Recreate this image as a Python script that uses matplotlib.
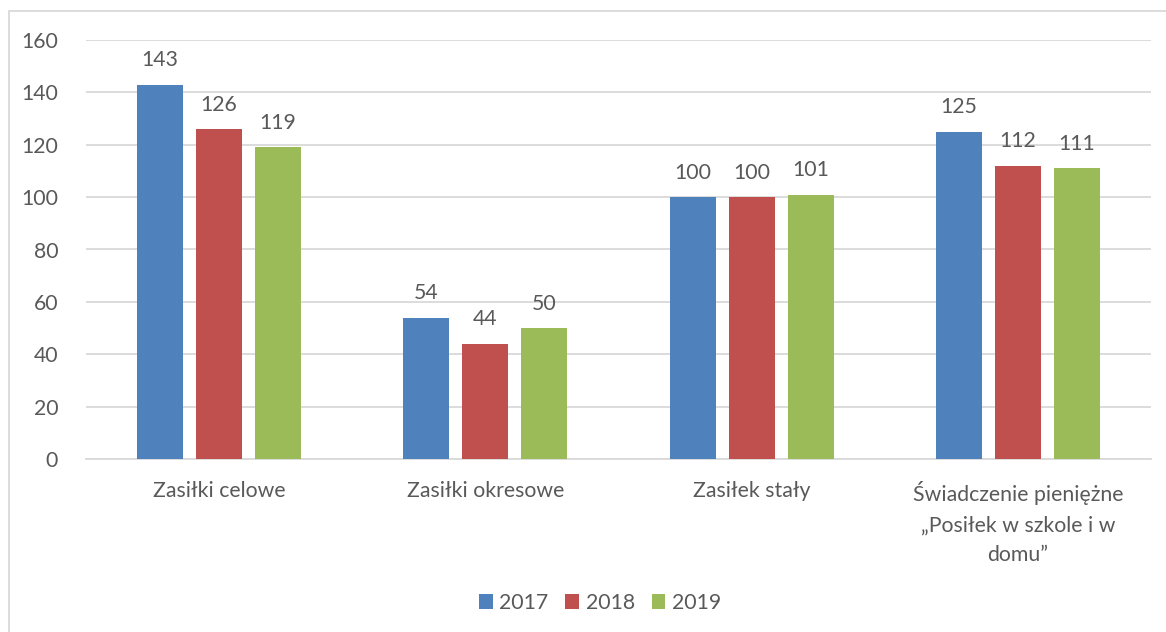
import matplotlib.pyplot as plt
import numpy as np
from matplotlib.patches import Rectangle

categories = ["Zasiłki celowe", "Zasiłki okresowe", "Zasiłek stały",
              "Świadczenie pieniężne\n„Posiłek w szkole i w\ndomu”"]
years = ["2017", "2018", "2019"]
v2017 = [143, 54, 100, 125]
v2018 = [126, 44, 100, 112]
v2019 = [119, 50, 101, 111]
colors = ["#4F81BD", "#C0504D", "#9BBB59"]

plt.rcParams['font.family'] = ['Lato', 'DejaVu Sans']
txt = "#595959"
fs = 15.3

fig = plt.figure(figsize=(11.66, 6.32), dpi=100)
ax = fig.add_axes([86/1166, 1-459/632, (1151-86)/1166, (459-40)/632])

x = np.arange(len(categories))
w = 0.173
step = 0.2216
for i, (vals, yr, c) in enumerate(zip([v2017, v2018, v2019], years, colors)):
    pos = x + (i-1)*step
    ax.bar(pos, vals, width=w, color=c, label=yr, zorder=3)
    for p, v in zip(pos, vals):
        ax.text(p, v + 5.5, str(v), ha='center', va='bottom', fontsize=fs, color=txt)

ax.set_xlim(-0.5, 3.5)
ax.set_ylim(0, 160)
ax.set_yticks(range(0, 161, 20))
ax.yaxis.grid(True, color="#D9D9D9", linewidth=1.3, zorder=0)
ax.set_axisbelow(True)
for s in ['top', 'right', 'left']:
    ax.spines[s].set_visible(False)
ax.spines['bottom'].set_color("#D9D9D9")
ax.spines['bottom'].set_linewidth(1.3)
ax.tick_params(axis='both', length=0, labelsize=fs, colors=txt)
ax.tick_params(axis='y', pad=20)
ax.set_xticks(x)
ax.set_xticklabels(categories, linespacing=1.62)
ax.tick_params(axis='x', pad=16)

leg = fig.legend(loc='center', bbox_to_anchor=(600/1166, 1-603/632), ncol=3, frameon=False,
                 fontsize=fs, handlelength=0.65, handleheight=0.65, handletextpad=0.3,
                 columnspacing=0.8)
for t in leg.get_texts():
    t.set_color(txt)

fig.patches.append(Rectangle((9/1166, -0.1), 1.2, 1-11/632+0.1, transform=fig.transFigure,
                             fill=False, edgecolor="#D9D9D9", linewidth=1.3))

fig.savefig("out.png", dpi=100)
